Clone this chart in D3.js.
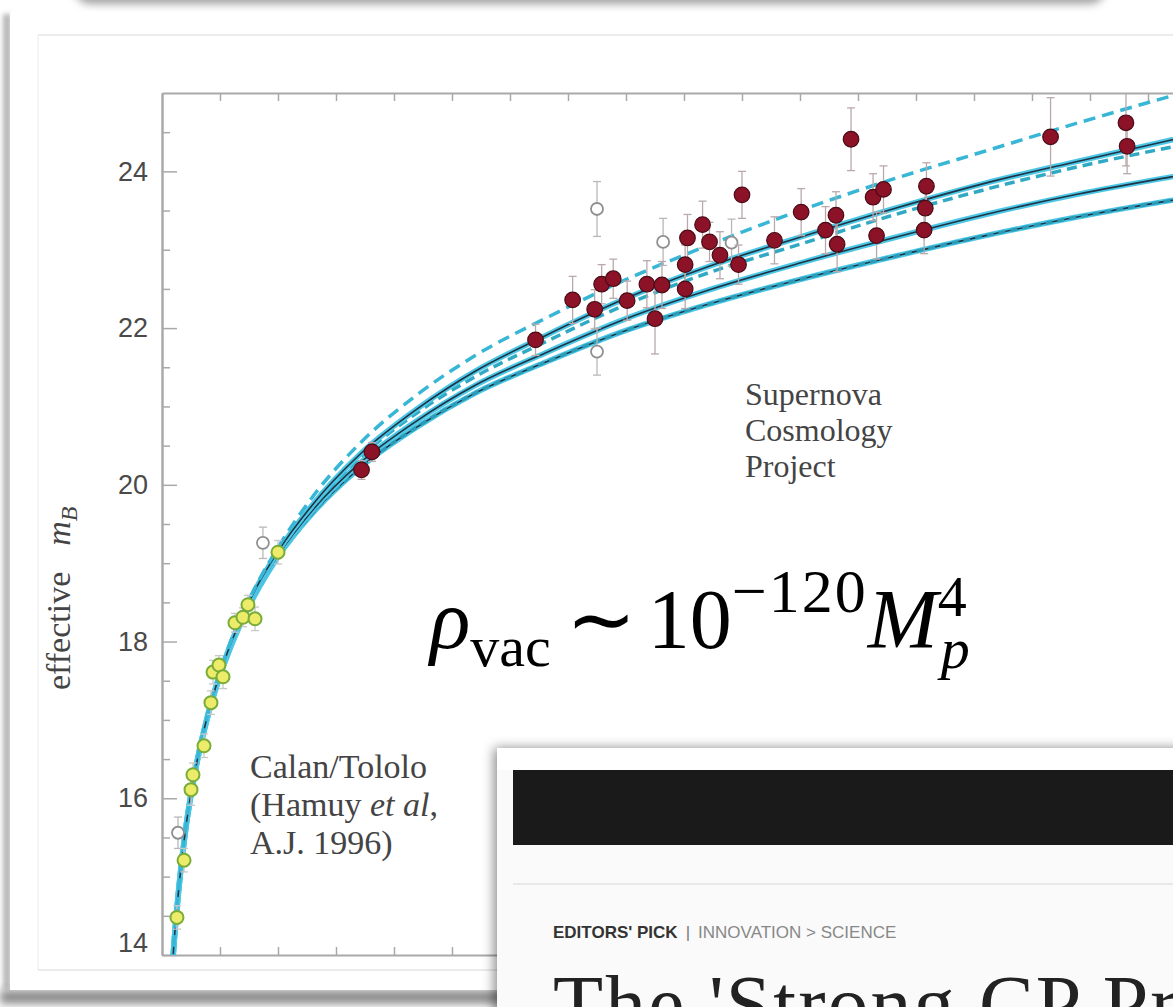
<!DOCTYPE html>
<html>
<head>
<meta charset="utf-8">
<script src="https://cdn.jsdelivr.net/npm/d3@7/dist/d3.min.js"></script>
<style>
  body { margin: 0; background: #fff; }
  svg { display: block; }
</style>
</head>
<body>
<script>
// Hubble diagram, Calan/Tololo + Supernova Cosmology Project

// Calan/Tololo supernovae (yellow)
var calanZ = [0.0129, 0.0190, 0.0250, 0.0267, 0.0362, 0.0422, 0.0440, 0.0491, 0.0526, 0.0629, 0.0698, 0.0741, 0.0802, 0.1000];
var calanM = [14.48, 15.21, 16.11, 16.30, 16.67, 17.22, 17.61, 17.70, 17.55, 18.24, 18.31, 18.47, 18.29, 19.14];
var calanErr = [0.15, 0.15, 0.2, 0.15, 0.15, 0.15, 0.15, 0.12, 0.15, 0.12, 0.12, 0.12, 0.15, 0.15];

// SCP supernovae (filled red)
var scpZ = [0.172, 0.181, 0.322, 0.354, 0.373, 0.379, 0.389, 0.401, 0.418, 0.425, 0.431, 0.451, 0.451, 0.453, 0.466, 0.472, 0.481, 0.497, 0.500, 0.528, 0.551, 0.572, 0.581, 0.582, 0.594, 0.613, 0.616, 0.622, 0.657, 0.658, 0.659, 0.766, 0.831, 0.832];
var scpM = [20.19, 20.42, 21.85, 22.36, 22.24, 22.56, 22.63, 22.35, 22.56, 22.12, 22.55, 22.50, 22.81, 23.15, 23.32, 23.10, 22.93, 22.81, 23.70, 23.12, 23.48, 23.25, 23.44, 23.07, 24.41, 23.67, 23.18, 23.77, 23.25, 23.53, 23.81, 24.44, 24.62, 24.32];
var scpErr = [0.12, 0.12, 0.2, 0.3, 0.25, 0.25, 0.25, 0.25, 0.3, 0.45, 0.3, 0.25, 0.25, 0.3, 0.3, 0.25, 0.3, 0.25, 0.3, 0.3, 0.3, 0.3, 0.3, 0.35, 0.4, 0.3, 0.3, 0.3, 0.3, 0.3, 0.3, 0.5, 0.55, 0.35];

// excluded / outlier supernovae (open circles)
var openZ = [0.0138, 0.087, 0.375, 0.375, 0.432, 0.491];
var openM = [15.56, 19.26, 23.52, 21.70, 23.10, 23.09];
var openErr = [0.2, 0.2, 0.35, 0.3, 0.3, 0.3];

// model curves
var modelZ = [0.009, 0.01, 0.013, 0.016, 0.02, 0.025, 0.03, 0.04, 0.05, 0.06, 0.08, 0.1, 0.13, 0.17, 0.22, 0.27, 0.33, 0.4, 0.47, 0.55, 0.63, 0.71, 0.79, 0.87, 0.92];
var modelA = [13.86, 14.09, 14.63, 15.08, 15.58, 16.07, 16.47, 17.11, 17.61, 18.03, 18.68, 19.20, 19.85, 20.52, 21.15, 21.65, 22.12, 22.62, 23.05, 23.50, 23.90, 24.26, 24.62, 24.96, 25.16];
var modelB = [13.85, 14.08, 14.62, 15.07, 15.57, 16.06, 16.46, 17.10, 17.59, 18.00, 18.65, 19.15, 19.75, 20.38, 20.97, 21.45, 21.90, 22.38, 22.78, 23.16, 23.52, 23.85, 24.13, 24.40, 24.56];
var modelC = [13.85, 14.08, 14.62, 15.07, 15.56, 16.05, 16.45, 17.09, 17.58, 17.99, 18.63, 19.13, 19.72, 20.34, 20.92, 21.38, 21.82, 22.30, 22.70, 23.07, 23.44, 23.77, 24.06, 24.31, 24.46];
var modelD = [13.85, 14.07, 14.61, 15.06, 15.56, 16.05, 16.45, 17.08, 17.57, 17.97, 18.61, 19.10, 19.68, 20.27, 20.82, 21.27, 21.68, 22.12, 22.48, 22.83, 23.15, 23.45, 23.71, 23.93, 24.06];
var modelE = [13.85, 14.07, 14.61, 15.06, 15.55, 16.04, 16.44, 17.07, 17.56, 17.96, 18.59, 19.08, 19.64, 20.21, 20.74, 21.17, 21.56, 21.97, 22.30, 22.62, 22.91, 23.18, 23.42, 23.63, 23.75];

var yMajor = [14, 16, 18, 20, 22, 24];

var width = 1173, height = 1007;
var plotLeft = 162, plotTop = 93, plotBottom = 955;

var svg = d3.select("body").append("svg")
    .attr("width", width)
    .attr("height", height);

var defs = svg.append("defs");
defs.append("filter").attr("id", "blur4").attr("x", "-20%").attr("y", "-50%").attr("width", "140%").attr("height", "200%")
    .append("feGaussianBlur").attr("stdDeviation", 4);
defs.append("filter").attr("id", "blur2").attr("x", "-50%").attr("y", "-5%").attr("width", "200%").attr("height", "110%")
    .append("feGaussianBlur").attr("stdDeviation", 2.5);
defs.append("filter").attr("id", "cardShadow").attr("x", "-10%").attr("y", "-20%").attr("width", "120%").attr("height", "140%")
    .append("feDropShadow").attr("dx", -3).attr("dy", 0).attr("stdDeviation", 6).attr("flood-color", "#000").attr("flood-opacity", 0.45);
defs.append("clipPath").attr("id", "plotClip")
    .append("rect").attr("x", plotLeft).attr("y", plotTop).attr("width", width - plotLeft).attr("height", plotBottom - plotTop);

//Page frame and shadows.
svg.append("rect").attr("x", 75).attr("y", -26).attr("width", 1030).attr("height", 30)
    .attr("rx", 15).attr("fill", "#a2a2a2").attr("filter", "url(#blur4)");
svg.append("rect").attr("x", 3).attr("y", 14).attr("width", 8).attr("height", 975)
    .attr("fill", "#b5b5b5").attr("filter", "url(#blur2)");
svg.append("rect").attr("x", 0).attr("y", 990).attr("width", 520).attr("height", 14)
    .attr("fill", "#8d8d8d").attr("filter", "url(#blur4)");
svg.append("rect").attr("x", 10).attr("y", 12).attr("width", width).attr("height", 978).attr("fill", "#fff");
svg.append("line").attr("x1", 38).attr("x2", width).attr("y1", 35).attr("y2", 35)
    .attr("stroke", "#e6e6e6").attr("stroke-width", 1.5);
svg.append("line").attr("x1", 38).attr("x2", 38).attr("y1", 35).attr("y2", 970)
    .attr("stroke", "#f0f0f0").attr("stroke-width", 1.5);
svg.append("line").attr("x1", 38).attr("x2", width).attr("y1", 970).attr("y2", 970)
    .attr("stroke", "#e4e4e4").attr("stroke-width", 1.5);

//Scales.
var x = d3.scaleLinear().domain([0, 1]).range([plotLeft, 1322]);
var y = d3.scaleLinear().domain([14, 25]).range([plotBottom, plotTop]);

var minorX = d3.range(1, 20).map(function(i) { return i * 0.05; });
var minorY = d3.range(14.5, 25, 0.5).filter(function(v) { return v % 2 !== 0; });

//Axes, ticks drawn inward.
var axisColor = "#a9a9a9";
var gLeft = svg.append("g").attr("transform", "translate(" + plotLeft + ",0)")
    .call(d3.axisLeft(y).tickValues(yMajor).tickSizeInner(-15).tickSizeOuter(0).tickPadding(14).tickFormat(d3.format("d")));
svg.append("g").attr("transform", "translate(" + plotLeft + ",0)")
    .call(d3.axisLeft(y).tickValues(minorY).tickSizeInner(-8).tickSizeOuter(0).tickFormat(""));
svg.append("g").attr("transform", "translate(0," + plotTop + ")")
    .call(d3.axisTop(x).tickValues(minorX).tickSizeInner(-8).tickSizeOuter(0).tickFormat(""));
svg.append("g").attr("transform", "translate(0," + plotBottom + ")")
    .call(d3.axisBottom(x).tickValues(minorX).tickSizeInner(-8).tickSizeOuter(0).tickFormat(""));
svg.selectAll(".domain").attr("stroke", axisColor).attr("stroke-width", 2);
svg.selectAll(".tick line").attr("stroke", axisColor).attr("stroke-width", 1.5);
gLeft.selectAll("text")
    .attr("font-family", "'Liberation Sans', Arial, sans-serif")
    .attr("font-size", 27)
    .attr("fill", "#4a4a4a");
// the bottom label sits a little above its tick, as in the figure
gLeft.selectAll(".tick").filter(function(d) { return d === 14; }).select("text").attr("y", -12);

var serif = "'Liberation Serif', 'Times New Roman', serif";

//Y axis title.
svg.append("text")
    .attr("transform", "translate(70,690) rotate(-90)")
    .attr("font-family", serif)
    .attr("font-size", 34)
    .attr("fill", "#444")
    .call(function(t) {
        t.append("tspan").text("effective");
        t.append("tspan").attr("font-style", "italic").attr("dx", 26).text("m");
        t.append("tspan").attr("font-style", "italic").attr("font-size", 24).attr("dy", 7).text("B");
    });

//Model curves.
var plot = svg.append("g").attr("clip-path", "url(#plotClip)");
var line = d3.line()
    .x(function(d) { return x(d[0]); })
    .y(function(d) { return y(d[1]); })
    .curve(d3.curveMonotoneX);
function pairs(ms) { return modelZ.map(function(z, i) { return [z, ms[i]]; }); }

var curveStyles = [
    { data: modelE, halo: true, core: true, dash: "7 5", dashColor: "#2a9cb8" },
    { data: modelD, halo: true, core: true },
    { data: modelC, halo: false, core: false, dash: "10 6", dashColor: "#2fa9c4" },
    { data: modelB, halo: true, core: true },
    { data: modelA, halo: false, core: false, dash: "12 7", dashColor: "#38b6d6" }
];
curveStyles.forEach(function(s) {
    var p = pairs(s.data);
    if (s.halo) plot.append("path").datum(p).attr("d", line).attr("fill", "none")
        .attr("stroke", "#4cc7e6").attr("stroke-width", 5.5);
    if (s.core) plot.append("path").datum(p).attr("d", line).attr("fill", "none")
        .attr("stroke", "#1f3446").attr("stroke-width", 1.6);
    if (s.dash) plot.append("path").datum(p).attr("d", line).attr("fill", "none")
        .attr("stroke", s.dashColor).attr("stroke-width", 3.5).attr("stroke-dasharray", s.dash);
});

//Error bars and points.
function drawSet(zs, ms, es, fill, stroke, sw, r, barColor) {
    var data = zs.map(function(z, i) { return { z: z, m: ms[i], e: es[i] }; });
    var g = plot.append("g");
    var bars = g.selectAll("g.bar").data(data).enter().append("g").attr("class", "bar")
        .attr("stroke", barColor).attr("stroke-width", 1.3);
    bars.append("line")
        .attr("x1", function(d) { return x(d.z); }).attr("x2", function(d) { return x(d.z); })
        .attr("y1", function(d) { return y(d.m - d.e); }).attr("y2", function(d) { return y(d.m + d.e); });
    bars.append("line")
        .attr("x1", function(d) { return x(d.z) - 4; }).attr("x2", function(d) { return x(d.z) + 4; })
        .attr("y1", function(d) { return y(d.m + d.e); }).attr("y2", function(d) { return y(d.m + d.e); });
    bars.append("line")
        .attr("x1", function(d) { return x(d.z) - 4; }).attr("x2", function(d) { return x(d.z) + 4; })
        .attr("y1", function(d) { return y(d.m - d.e); }).attr("y2", function(d) { return y(d.m - d.e); });
    g.selectAll("circle").data(data).enter().append("circle")
        .attr("cx", function(d) { return x(d.z); })
        .attr("cy", function(d) { return y(d.m); })
        .attr("r", r)
        .attr("fill", fill)
        .attr("stroke", stroke)
        .attr("stroke-width", sw);
}
drawSet(openZ, openM, openErr, "#fff", "#8f8f8f", 1.8, 6, "#b8b8b8");
drawSet(calanZ, calanM, calanErr, "#ecec6a", "#79ad38", 2, 6.5, "#c8c8c8");
drawSet(scpZ, scpM, scpErr, "#8c1327", "#4a0b16", 1.2, 7.8, "#b9a9ab");

//Annotations.
var scp = svg.append("text").attr("font-family", serif).attr("font-size", 32).attr("fill", "#444");
["Supernova", "Cosmology", "Project"].forEach(function(s, i) {
    scp.append("tspan").attr("x", 745).attr("y", 405 + i * 36).text(s);
});
var ct = svg.append("text").attr("font-family", serif).attr("font-size", 34).attr("fill", "#444");
ct.append("tspan").attr("x", 250).attr("y", 778).text("Calan/Tololo");
var l2 = ct.append("tspan").attr("x", 250).attr("y", 816);
l2.append("tspan").text("(Hamuy ");
l2.append("tspan").attr("font-style", "italic").text("et al");
l2.append("tspan").text(",");
ct.append("tspan").attr("x", 250).attr("y", 854).text("A.J. 1996)");

//Formula.
var f = svg.append("text").attr("x", 430).attr("y", 648)
    .attr("font-family", serif).attr("font-size", 84).attr("fill", "#000");
f.append("tspan").attr("font-style", "italic").text("\u03c1");
f.append("tspan").attr("font-size", 58).attr("dy", 18).text("vac");
f.append("tspan").attr("dx", 15).attr("dy", -18).text("\u223c");
f.append("tspan").attr("dx", 12).text("10");
f.append("tspan").attr("font-size", 62).attr("letter-spacing", 2).attr("dy", -36).text("\u2212120");
f.append("tspan").attr("font-style", "italic").attr("dy", 36).text("M");
f.append("tspan").attr("font-size", 58).attr("dy", -32).text("4");
f.append("tspan").attr("font-size", 58).attr("font-style", "italic").attr("dx", -26).attr("dy", 52).text("p");

//Article card overlay.
var card = svg.append("g").attr("filter", "url(#cardShadow)");
card.append("rect").attr("x", 497).attr("y", 748).attr("width", 720).attr("height", 300).attr("fill", "#fafafa");
svg.append("rect").attr("x", 497).attr("y", 748).attr("width", 720).attr("height", 22).attr("fill", "#fff");
svg.append("rect").attr("x", 513).attr("y", 770).attr("width", 700).attr("height", 75).attr("fill", "#1a1a1a");
svg.append("line").attr("x1", 513).attr("x2", width).attr("y1", 884).attr("y2", 884)
    .attr("stroke", "#e2e2e2").attr("stroke-width", 1.5);
var tag = svg.append("text").attr("x", 553).attr("y", 938)
    .attr("font-family", "'Liberation Sans Narrow', 'Liberation Sans', Arial, sans-serif")
    .attr("font-size", 17);
tag.append("tspan").attr("font-weight", "bold").attr("fill", "#333").text("EDITORS' PICK");
tag.append("tspan").attr("fill", "#777").attr("dx", 8).text("|");
tag.append("tspan").attr("fill", "#888").attr("dx", 8).text("INNOVATION  >  SCIENCE");
svg.append("text").attr("x", 553).attr("y", 1032)
    .attr("font-family", serif).attr("font-size", 82).attr("letter-spacing", 2)
    .attr("fill", "#222").text("The 'Strong CP Problem'");
</script>
</body>
</html>
